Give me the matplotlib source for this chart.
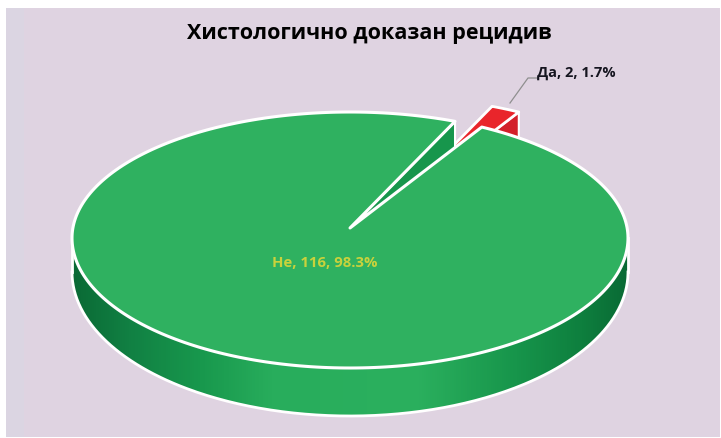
import numpy as np
import matplotlib
matplotlib.use('Agg')
import matplotlib.pyplot as plt
from matplotlib.colors import LinearSegmentedColormap
from matplotlib.patches import Polygon

title = 'Хистологично доказан рецидив'
categories = ['Не', 'Да']
counts = [116, 2]

plt.rcParams['font.family'] = ['Open Sans', 'DejaVu Sans']

# pie layout in pixels, the near half is a bit deeper than the far half
cx, cy = 350, 238
rx, ry_far, ry_near = 278, 126, 130
apex_y = 228
depth = 50
base_cy, base_ry = 272, 144
start_angle = 61.7
small_shift = (37, -15)

bg = '#dfd3e1'
green_top = '#2fb160'
green_wall = '#17964c'
red_top = '#e9252b'
red_wall = '#d3202a'


def arc(t0, t1, n=300):
    t = np.radians(np.linspace(t0, t1, n))
    s = np.sin(t)
    return np.column_stack([cx + rx * np.cos(t), cy - np.where(s > 0, ry_far, ry_near) * s])


def wedge(t0, t1):
    return np.vstack([[cx, apex_y], arc(t0, t1)])


total = sum(counts)
sweep = [c / total * 360 for c in counts]
small_end = start_angle + sweep[1]
big_end = small_end + sweep[0]

fig = plt.figure(figsize=(7.21, 4.38), dpi=100, facecolor='white')
ax = fig.add_axes([0, 0, 1, 1])
ax.set_axis_off()
ax.add_patch(plt.Rectangle((6, 8), 714, 429, color=bg, lw=0, zorder=0))
ax.add_patch(plt.Rectangle((6, 8), 18, 429, color='#dbd5e2', lw=0, zorder=0.5))

# exploded slice: cut wall first, then its top
small = wedge(start_angle, small_end) + small_shift
tip, corner = small[0], small[1]
wall = np.array([tip, corner, corner + [0, depth], tip + [0, depth]])
ax.add_patch(Polygon(wall, fc=red_wall, ec='white', lw=1.5, joinstyle='round', zorder=2))
ax.add_patch(Polygon(small, fc=red_top, ec='white', lw=2, joinstyle='round', zorder=3))

# front side band of the big slice, shaded towards both ends
front = arc(180, 360)
t = np.radians(np.linspace(180, 360, 300))
base = np.column_stack([cx + rx * np.cos(t), base_cy - base_ry * np.sin(t)])
band = np.vstack([front, base[::-1]])
band_patch = Polygon(band, fc='none', ec='none', transform=ax.transData)
ax.add_patch(band_patch)
shade = LinearSegmentedColormap.from_list(
    'side', [(0, '#0a6a35'), (0.1, '#118043'), (0.23, '#18984d'), (0.36, '#28ad5c'),
             (0.62, '#2bb05e'), (0.8, '#17954b'), (0.92, '#0e7f3e'), (1, '#0a6a35')])
img = ax.imshow(np.linspace(0, 1, 556)[None, :], cmap=shade, aspect='auto',
                extent=(cx - rx, cx + rx, base_cy + base_ry, cy - 10), zorder=4)
img.set_clip_path(band_patch)
ax.plot(*base.T, color='white', lw=2, zorder=5)
ax.plot([cx - rx, cx - rx], [cy, base_cy], color='white', lw=2, zorder=5)
ax.plot([cx + rx, cx + rx], [cy, base_cy], color='white', lw=2, zorder=5)

# inner wall showing through the gap
edge = arc(small_end, small_end, 1)[0]
notch = np.array([[cx, apex_y], edge, edge + [0, depth], [cx, apex_y + depth]])
ax.add_patch(Polygon(notch, fc=green_wall, ec='white', lw=1.5, joinstyle='round', zorder=5))

# big slice top
ax.add_patch(Polygon(wedge(small_end, big_end), fc=green_top, ec='white', lw=2.2,
                     joinstyle='round', zorder=6))

# labels
ax.text(369, 33, title, fontsize=15.5, fontweight='bold', color='black',
        ha='center', va='center', zorder=8)

pct = [c / total * 100 for c in counts]
ax.text(325, 263, f'{categories[0]}, {counts[0]}, {pct[0]:.1f}%', fontsize=10.7,
        fontweight='bold', color='#c9d23c', ha='center', va='center', zorder=8)
ax.text(576, 73, f'{categories[1]}, {counts[1]}, {pct[1]:.1f}%', fontsize=10.5,
        fontweight='bold', color='#15151f', ha='center', va='center', zorder=8)
ax.plot([510, 528, 537], [103, 78, 78], color='#8f8f8f', lw=0.9, zorder=7)

ax.set_xlim(0, 721)
ax.set_ylim(438, 0)

fig.savefig('out.png', dpi=100)
